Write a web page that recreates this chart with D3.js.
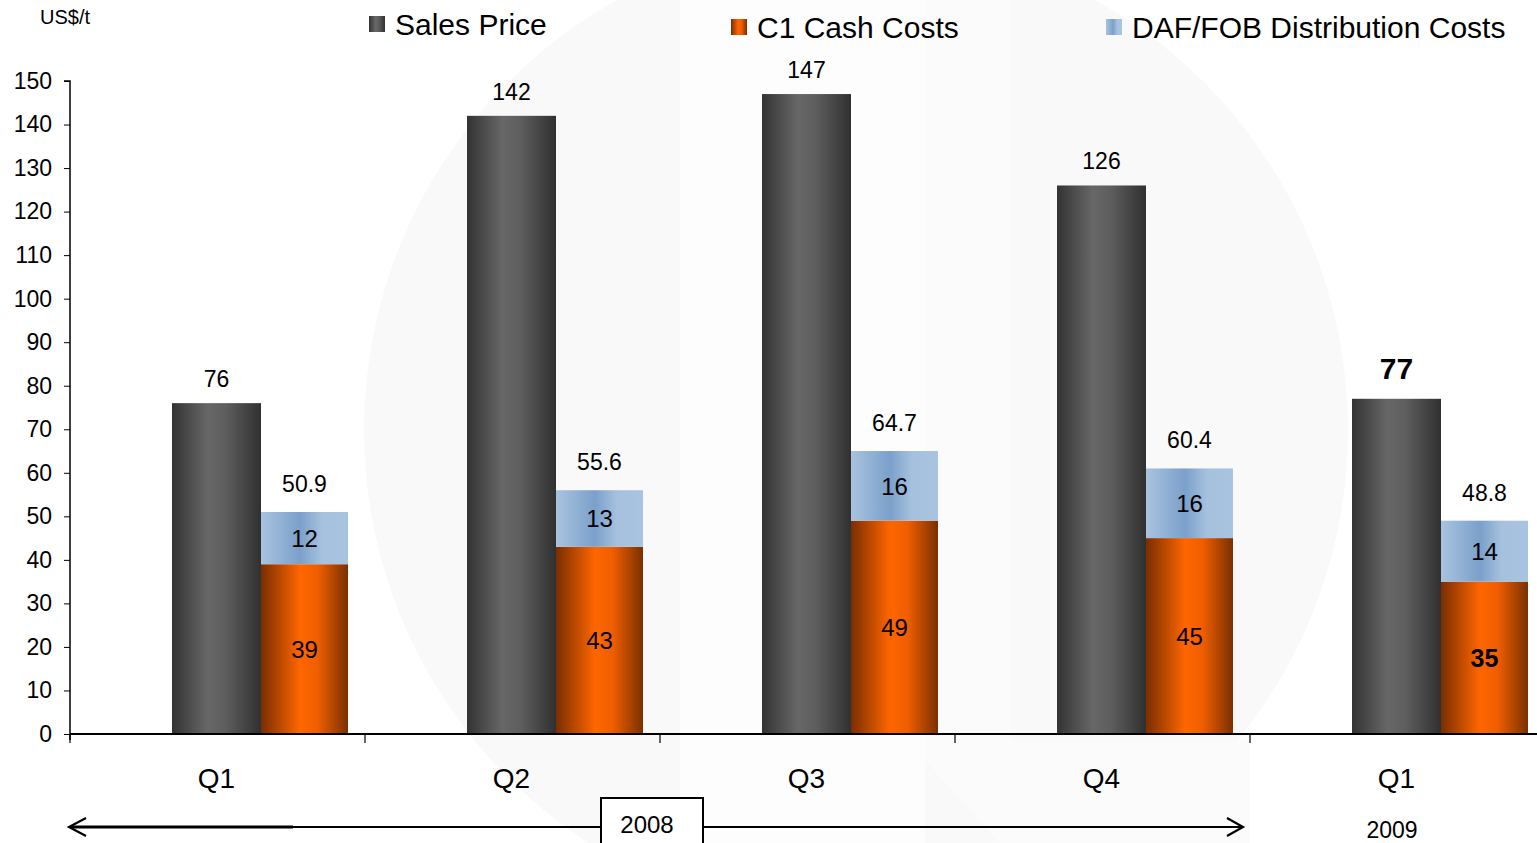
<!DOCTYPE html>
<html>
<head>
<meta charset="utf-8">
<script src="https://cdn.jsdelivr.net/npm/d3@7"></script>
<style>
  body { margin: 0; background: #fff; }
  svg { display: block; font-family: "Liberation Sans", Arial, sans-serif; }
</style>
</head>
<body>
<svg id="chart" width="1537" height="843"></svg>
<script>
const quarters = ["Q1", "Q2", "Q3", "Q4", "Q1 2009"]
const quarterLabels = ["Q1", "Q2", "Q3", "Q4", "Q1"]
const salesPrice = [76, 142, 147, 126, 77]
const c1Costs = [39, 43, 49, 45, 35]
const dafCosts = [12, 13, 16, 16, 14]
const totalCosts = [50.9, 55.6, 64.7, 60.4, 48.8]
const yTicks = d3.range(0, 151, 10)

const svg = d3.select("#chart")
const width = 1537, height = 843

// faint logo watermark behind the chart
const wm = svg.append("g")
wm.append("circle").attr("cx", 856).attr("cy", 430).attr("r", 492).attr("fill", "#f9f9f9")
wm.append("rect").attr("x", 680).attr("y", 0).attr("width", 245).attr("height", height).attr("fill", "#fdfdfd")
wm.append("path").attr("d", "M925,0 L1010,0 L1010,740 L1250,740 L1250,843 L1000,843 L925,760 Z").attr("fill", "#fbfbfb")

const defs = svg.append("defs")
function grad(id, stops) {
  const g = defs.append("linearGradient").attr("id", id)
    .attr("x1", "0%").attr("x2", "100%").attr("y1", "0%").attr("y2", "0%")
  stops.forEach(([o, c]) => g.append("stop").attr("offset", o).attr("stop-color", c))
}
grad("gSales", [["0%", "#333"], ["40%", "#676767"], ["60%", "#5e5e5e"], ["100%", "#303030"]])
grad("gC1", [["0%", "#7a2e00"], ["45%", "#ff6600"], ["65%", "#f05e00"], ["100%", "#7a3000"]])
grad("gDaf", [["0%", "#a9c3df"], ["45%", "#7ba0cb"], ["70%", "#a6c1de"], ["100%", "#a9c4e0"]])

const x = d3.scaleBand().domain(quarters).range([70, 1545]).paddingInner(0).paddingOuter(0)
const y = d3.scaleLinear().domain([0, 150]).range([734, 81])

const salesOff = 102, salesW = 89, costOff = 191, costW = 87

const rows = quarters.map((q, i) => ({
  q, label: quarterLabels[i], sales: salesPrice[i], c1: c1Costs[i], daf: dafCosts[i],
  total: totalCosts[i], last: i === quarters.length - 1
}))

// bars
svg.append("g").selectAll("rect").data(rows).join("rect")
  .attr("x", d => x(d.q) + salesOff).attr("width", salesW)
  .attr("y", d => y(d.sales)).attr("height", d => y(0) - y(d.sales))
  .attr("fill", "url(#gSales)")

svg.append("g").selectAll("rect").data(rows).join("rect")
  .attr("x", d => x(d.q) + costOff).attr("width", costW)
  .attr("y", d => y(d.c1)).attr("height", d => y(0) - y(d.c1))
  .attr("fill", "url(#gC1)")

svg.append("g").selectAll("rect").data(rows).join("rect")
  .attr("x", d => x(d.q) + costOff).attr("width", costW)
  .attr("y", d => y(d.c1 + d.daf)).attr("height", d => y(d.c1) - y(d.c1 + d.daf))
  .attr("fill", "url(#gDaf)")

// labels
const lab = svg.append("g").attr("text-anchor", "middle").attr("fill", "#000")
lab.selectAll(".sl").data(rows).join("text")
  .attr("x", d => x(d.q) + salesOff + salesW / 2)
  .attr("y", d => y(d.sales) - (d.last ? 20 : 16))
  .attr("font-size", d => d.last ? 30 : 23)
  .attr("font-weight", d => d.last ? "bold" : null)
  .text(d => d.sales)

lab.selectAll(".tl").data(rows).join("text")
  .attr("x", d => x(d.q) + costOff + costW / 2)
  .attr("y", d => y(d.c1 + d.daf) - 20)
  .attr("font-size", 23)
  .text(d => d.total)

lab.selectAll(".dl").data(rows).join("text")
  .attr("x", d => x(d.q) + costOff + costW / 2)
  .attr("y", d => (y(d.c1) + y(d.c1 + d.daf)) / 2)
  .attr("dy", "0.36em")
  .attr("font-size", 24)
  .text(d => d.daf)

lab.selectAll(".cl").data(rows).join("text")
  .attr("x", d => x(d.q) + costOff + costW / 2)
  .attr("y", d => (y(0) + y(d.c1)) / 2)
  .attr("dy", "0.36em")
  .attr("font-size", d => d.last ? 25 : 24)
  .attr("font-weight", d => d.last ? "bold" : null)
  .text(d => d.c1)

// y axis
const yAxis = svg.append("g").attr("transform", "translate(70,0)")
  .call(d3.axisLeft(y).tickValues(yTicks).tickSize(6).tickPadding(12))
yAxis.select(".domain").attr("stroke", "#000").attr("stroke-width", 1.5).attr("d", "M-6,81H0V740")
yAxis.selectAll("line").attr("stroke", "#000")
yAxis.selectAll("text").attr("font-size", 23).attr("fill", "#000").attr("font-family", "Liberation Sans, Arial, sans-serif")

// x axis
svg.append("line").attr("x1", 70).attr("x2", width).attr("y1", y(0)).attr("y2", y(0))
  .attr("stroke", "#000").attr("stroke-width", 2)
svg.append("g").selectAll("line").data(quarters).join("line")
  .attr("x1", d => x(d)).attr("x2", d => x(d))
  .attr("y1", y(0)).attr("y2", y(0) + 9)
  .attr("stroke", "#000").attr("stroke-width", 1.2)
svg.append("g").attr("text-anchor", "middle").selectAll("text").data(rows).join("text")
  .attr("x", d => x(d.q) + salesOff + salesW / 2)
  .attr("y", 788)
  .attr("font-size", 28)
  .text(d => d.label)

// year arrow
const ay = 827
svg.append("line").attr("x1", 70).attr("x2", 1242).attr("y1", ay).attr("y2", ay)
  .attr("stroke", "#000").attr("stroke-width", 2)
svg.append("line").attr("x1", 70).attr("x2", 293).attr("y1", ay).attr("y2", ay)
  .attr("stroke", "#000").attr("stroke-width", 3)
svg.append("path").attr("d", `M86,${ay - 9}L69,${ay}L86,${ay + 9}`)
  .attr("fill", "none").attr("stroke", "#000").attr("stroke-width", 2.2)
svg.append("path").attr("d", `M1227,${ay - 9}L1243,${ay}L1227,${ay + 9}`)
  .attr("fill", "none").attr("stroke", "#000").attr("stroke-width", 2.2)
svg.append("rect").attr("x", 601).attr("y", 798).attr("width", 102).attr("height", 60)
  .attr("fill", "#fff").attr("stroke", "#000").attr("stroke-width", 2)
svg.append("text").attr("x", 647).attr("y", 833).attr("text-anchor", "middle")
  .attr("font-size", 24).text("2008")
svg.append("text").attr("x", 1392).attr("y", 838).attr("text-anchor", "middle")
  .attr("font-size", 23).text("2009")

// unit
svg.append("text").attr("x", 40).attr("y", 24).attr("font-size", 20).text("US$/t")

// legend
const legend = [
  { name: "Sales Price", fill: "url(#gSales)", x: 369, y: 16 },
  { name: "C1 Cash Costs", fill: "url(#gC1)", x: 731, y: 19 },
  { name: "DAF/FOB Distribution Costs", fill: "url(#gDaf)", x: 1106, y: 19 }
]
const lg = svg.append("g").selectAll("g").data(legend).join("g")
  .attr("transform", d => `translate(${d.x},${d.y})`)
lg.append("rect").attr("width", 16).attr("height", 16).attr("fill", d => d.fill)
lg.append("text").attr("x", 26).attr("y", 8).attr("dy", "0.36em")
  .attr("font-size", 30).text(d => d.name)
</script>
</body>
</html>
